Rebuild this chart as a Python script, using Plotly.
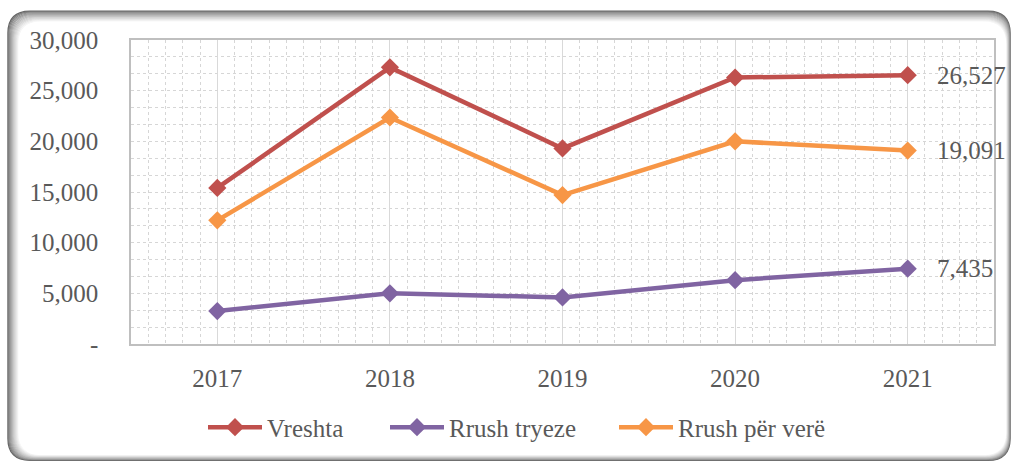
import plotly.graph_objects as go

years = ["2017", "2018", "2019", "2020", "2021"]
vreshta = [15400, 27300, 19300, 26300, 26527]
rrush_tryeze = [3250, 5000, 4600, 6300, 7435]
rrush_vere = [12200, 22350, 14700, 20000, 19091]
y_ticks = [0, 5000, 10000, 15000, 20000, 25000, 30000]
y_ticktext = ["-", "5,000", "10,000", "15,000", "20,000", "25,000", "30,000"]

W, H = 1012, 462
L, R, T, B = 131, 18, 40, 116
PW, PH = W - L - R, H - T - B

FONT = "Liberation Serif"
FS = 25
TXT = "#595959"

def px(x):
    return (x - L) / PW

def py(y):
    return (H - B - y) / PH

def rrect(x0, y0, x1, y1, r):
    pts = [
        ("M", (x0 + r, y0)), ("L", (x1 - r, y0)), ("Q", (x1, y0), (x1, y0 + r)),
        ("L", (x1, y1 - r)), ("Q", (x1, y1), (x1 - r, y1)), ("L", (x0 + r, y1)),
        ("Q", (x0, y1), (x0, y1 - r)), ("L", (x0, y0 + r)), ("Q", (x0, y0), (x0 + r, y0)),
    ]
    s = ""
    for p in pts:
        s += p[0] + " " + " ".join(f"{px(a):.5f},{py(b):.5f}" for a, b in p[1:]) + " "
    return s + "Z"

xs = list(range(len(years)))
fig = go.Figure()
series = [("Vreshta", vreshta, "#C0504D", "legend", 203),
          ("Rrush tryeze", rrush_tryeze, "#8064A2", "legend2", 385),
          ("Rrush për verë", rrush_vere, "#F79646", "legend3", 614)]
legends = {}
for name, vals, col, lg, lx in series:
    fig.add_trace(go.Scatter(
        x=xs, y=vals, name=name, mode="lines+markers", legend=lg,
        line=dict(color=col, width=4.5),
        marker=dict(symbol="diamond", size=14, color=col),
    ))
    fig.add_annotation(x=xs[-1], y=vals[-1], text=f"{vals[-1]:,}", showarrow=False,
                       xanchor="left", yanchor="middle", xshift=27,
                       font=dict(family=FONT, size=FS, color=TXT))
    legends[lg] = dict(orientation="h", x=px(lx), xanchor="left", y=py(430), yanchor="middle",
                       font=dict(family=FONT, size=FS, color=TXT), bgcolor="rgba(0,0,0,0)",
                       itemwidth=54)

# frame with inner shadow (darker on left/top)
shapes = []
n = 14
for i in range(n):
    t = i / (n - 1)
    g = int(100 + (255 - 100) * (t ** 0.7))
    c = f"rgb({g},{g},{g})"
    shapes.append(dict(type="path", xref="paper", yref="paper", layer="below",
                       path=rrect(8 + i * 0.85, 11 + i * 0.85, 1010 - i * 0.35, 463 - i * 0.45, 22),
                       line=dict(color=c, width=1.4),
                       fillcolor="white" if i == n - 1 else None))
fig.update_layout(shapes=shapes)

fig.update_xaxes(
    range=[-0.5, 4.5], tickvals=xs, ticktext=years, showgrid=True,
    gridcolor="#D9D9D9", gridwidth=1.2, zeroline=False,
    showline=True, linecolor="#BFBFBF", linewidth=1.5, mirror=True,
    ticks="", ticklabelstandoff=11,
    tickfont=dict(family=FONT, size=FS, color=TXT),
    minor=dict(dtick=0.1, tick0=0, showgrid=True, gridcolor="#D6D6D6", griddash="dot", gridwidth=1),
)
fig.update_yaxes(
    range=[0, 30000], tickvals=y_ticks, ticktext=y_ticktext, showgrid=True,
    gridcolor="#D6D6D6", griddash="dot", gridwidth=1, zeroline=False,
    showline=True, linecolor="#BFBFBF", linewidth=1.5, mirror=True,
    ticks="", ticklabelstandoff=26,
    tickfont=dict(family=FONT, size=FS, color=TXT),
    minor=dict(dtick=5000 / 3, tick0=0, showgrid=True, gridcolor="#D6D6D6", griddash="dot", gridwidth=1),
)
fig.update_layout(
    width=W, height=H, autosize=False,
    margin=dict(l=L, r=R, t=T, b=B),
    paper_bgcolor="white", plot_bgcolor="rgba(0,0,0,0)",
    font=dict(family=FONT, size=FS, color=TXT),
    showlegend=True,
    **legends,
)
fig.write_html("out.html", config={"displayModeBar": False},
               post_script="document.body.style.margin='0';")
